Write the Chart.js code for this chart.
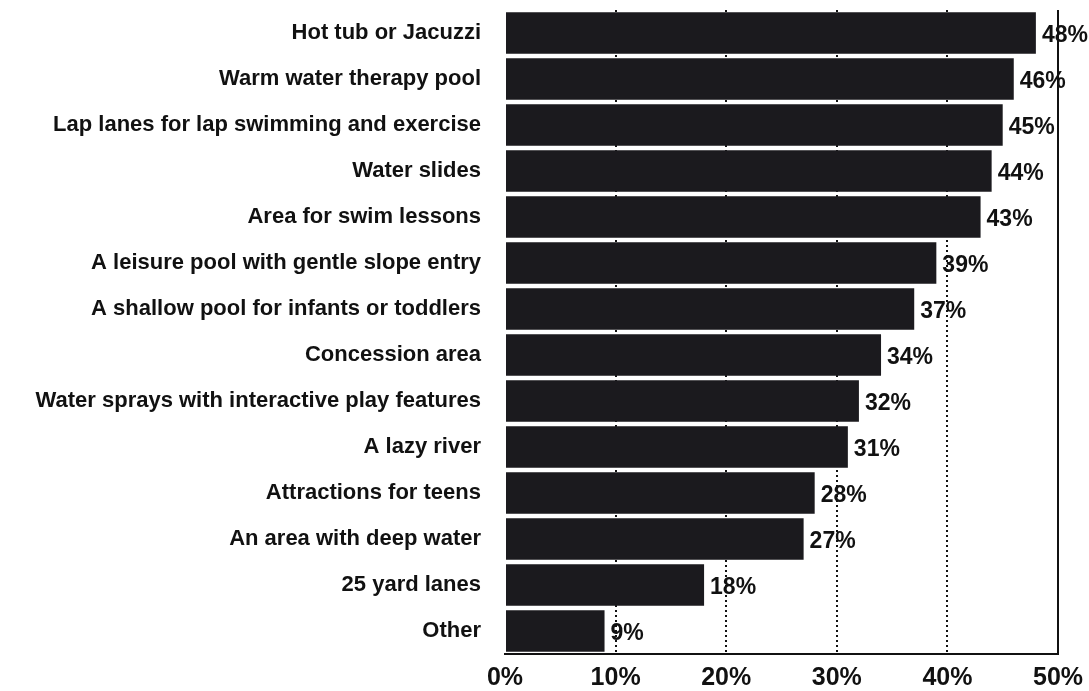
<!DOCTYPE html>
<html>
<head>
<meta charset="utf-8">
<script src="https://cdn.jsdelivr.net/npm/chart.js@4/dist/chart.umd.min.js"></script>
<style>
  html, body { margin: 0; padding: 0; background: #fff; }
  #wrap { width: 1089px; height: 691px; }
</style>
</head>
<body>
<div id="wrap"><canvas id="poolChart"></canvas></div>
<script>
// amenities and share of respondents (percent)
var amenities = [
  "Hot tub or Jacuzzi",
  "Warm water therapy pool",
  "Lap lanes for lap swimming and exercise",
  "Water slides",
  "Area for swim lessons",
  "A leisure pool with gentle slope entry",
  "A shallow pool for infants or toddlers",
  "Concession area",
  "Water sprays with interactive play features",
  "A lazy river",
  "Attractions for teens",
  "An area with deep water",
  "25 yard lanes",
  "Other"
];
var percents = [48, 46, 45, 44, 43, 39, 37, 34, 32, 31, 28, 27, 18, 9];
var xTicks = [0, 10, 20, 30, 40, 50];

var txtColor = "#111111";

// value labels at the end of each bar + right frame line
var barLabels = {
  id: "barLabels",
  afterDatasetsDraw: function(chart) {
    var ctx = chart.ctx;
    var meta = chart.getDatasetMeta(0);
    ctx.save();
    ctx.fillStyle = txtColor;
    ctx.font = "bold 23px 'Liberation Sans', Arial, sans-serif";
    ctx.textAlign = "left";
    ctx.textBaseline = "middle";
    meta.data.forEach(function(bar, i) {
      ctx.fillText(percents[i] + "%", bar.x + 6, bar.y + 3);
    });
    var a = chart.chartArea;
    ctx.strokeStyle = "#111";
    ctx.lineWidth = 2;
    ctx.beginPath();
    ctx.moveTo(a.right, a.top);
    ctx.lineTo(a.right, a.bottom);
    ctx.stroke();
    ctx.restore();
  }
};

new Chart(document.getElementById("poolChart"), {
  type: "bar",
  data: {
    labels: amenities,
    datasets: [{
      data: percents,
      backgroundColor: "#1b1a1e",
      borderWidth: 0,
      barPercentage: 0.9,
      categoryPercentage: 1.0
    }]
  },
  options: {
    indexAxis: "y",
    responsive: true,
    maintainAspectRatio: false,
    animation: false,
    layout: { padding: { top: 10, right: 31, left: 0, bottom: 0 } },
    plugins: {
      legend: { display: false },
      tooltip: { enabled: false }
    },
    scales: {
      x: {
        min: 0,
        max: 50,
        afterBuildTicks: function(axis) {
          axis.ticks = xTicks.map(function(v) { return { value: v }; });
        },
        afterFit: function(axis) {
          axis.height = 37;
          axis.paddingLeft = 0;
          axis.paddingRight = 0;
        },
        grid: {
          drawTicks: false,
          lineWidth: 2,
          color: function(c) {
            if (c.tick && (c.tick.value === 0 || c.tick.value === 50)) return "rgba(0,0,0,0)";
            return "#111";
          }
        },
        border: { display: true, color: "#111", width: 2, dash: [2, 3] },
        ticks: {
          color: txtColor,
          padding: 9,
          font: { family: "'Liberation Sans', Arial, sans-serif", size: 25, weight: "bold" },
          callback: function(v) { return v + "%"; }
        }
      },
      y: {
        afterFit: function(axis) {
          axis.width = 505;
          axis.paddingTop = 0;
          axis.paddingBottom = 0;
        },
        grid: { display: false, drawTicks: false },
        border: { display: false },
        ticks: {
          color: txtColor,
          padding: 24,
          autoSkip: false,
          font: { family: "'Liberation Sans', Arial, sans-serif", size: 22, weight: "bold" }
        }
      }
    }
  },
  plugins: [barLabels]
});
</script>
</body>
</html>
